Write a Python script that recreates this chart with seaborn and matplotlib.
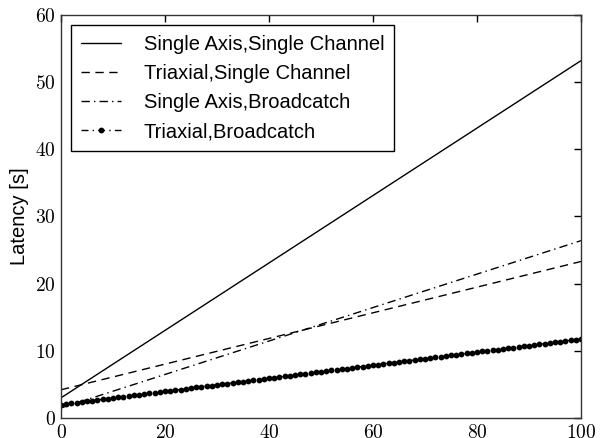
import numpy as np
import pandas as pd
import seaborn as sns
import matplotlib.pyplot as plt
from matplotlib.ticker import FuncFormatter

# Endpoints of the three straight series
x_ends = [0, 100]
single_axis_single_channel = [3.0, 53.2]
triaxial_single_channel = [4.2, 23.3]
single_axis_broadcatch = [1.5, 26.4]

# Triaxial,Broadcatch has a marker at every integer x
x_tb = list(range(0, 101))
triaxial_broadcatch = [
    2.00, 2.10, 2.20, 2.29, 2.39, 2.49, 2.59, 2.68, 2.78, 2.88,
    2.98, 3.07, 3.17, 3.27, 3.37, 3.46, 3.56, 3.66, 3.76, 3.85,
    3.95, 4.05, 4.15, 4.24, 4.34, 4.44, 4.54, 4.63, 4.73, 4.83,
    4.93, 5.02, 5.12, 5.22, 5.32, 5.41, 5.51, 5.61, 5.71, 5.80,
    5.90, 6.00, 6.10, 6.19, 6.29, 6.39, 6.49, 6.58, 6.68, 6.78,
    6.88, 6.97, 7.07, 7.17, 7.27, 7.36, 7.46, 7.56, 7.66, 7.75,
    7.85, 7.95, 8.05, 8.14, 8.24, 8.34, 8.44, 8.53, 8.63, 8.73,
    8.83, 8.92, 9.02, 9.12, 9.22, 9.31, 9.41, 9.51, 9.61, 9.70,
    9.80, 9.90, 10.00, 10.09, 10.19, 10.29, 10.39, 10.48, 10.58, 10.68,
    10.78, 10.87, 10.97, 11.07, 11.17, 11.26, 11.36, 11.46, 11.56, 11.65,
    11.75,
]

sns.set_style("white")
plt.rcParams["font.family"] = ["Liberation Sans", "DejaVu Sans"]
plt.rcParams["mathtext.fontset"] = "cm"
plt.rcParams["text.color"] = "black"
plt.rcParams["axes.labelcolor"] = "black"

fig = plt.figure(figsize=(6, 4.38), dpi=100)
ax = fig.add_axes([0.1017, 0.0457, 0.8666, 0.9201])

sns.lineplot(x=x_ends, y=single_axis_single_channel, ax=ax, color="black",
             linewidth=1.0, linestyle="-", label="Single Axis,Single Channel")
sns.lineplot(x=x_ends, y=triaxial_single_channel, ax=ax, color="black",
             linewidth=1.0, dashes=(6, 4), label="Triaxial,Single Channel")
sns.lineplot(x=x_ends, y=single_axis_broadcatch, ax=ax, color="black",
             linewidth=1.0, dashes=(6, 3, 1, 3), label="Single Axis,Broadcatch")
sns.lineplot(x=x_tb, y=triaxial_broadcatch, ax=ax, color="black",
             linewidth=1.0, dashes=(5, 3, 1, 3), marker="o", markersize=4.2,
             markeredgewidth=0, label="Triaxial,Broadcatch")

ax.set_xlim(0, 100)
ax.set_ylim(0, 60)
ax.set_xticks([0, 20, 40, 60, 80, 100])
ax.set_yticks([0, 10, 20, 30, 40, 50, 60])
fmt = FuncFormatter(lambda v, p: r"$%d$" % v)
ax.xaxis.set_major_formatter(fmt)
ax.yaxis.set_major_formatter(fmt)
ax.tick_params(direction="in", length=5, width=1, top=True, right=True,
               labelsize=14, colors="black", pad=4)
for s in ax.spines.values():
    s.set_color("#333333")
    s.set_linewidth(1.0)

ax.set_ylabel("Latency [s]", fontsize=14.5)
ax.set_xlabel("")

leg = ax.legend(loc="upper left", fontsize=14.5, frameon=True, fancybox=False,
                edgecolor="black", framealpha=1, handlelength=2.0,
                handletextpad=1.1, borderpad=0.5, labelspacing=0.5,
                borderaxespad=0.5)
leg.get_frame().set_linewidth(1.0)

fig.savefig("out.png", dpi=100)
